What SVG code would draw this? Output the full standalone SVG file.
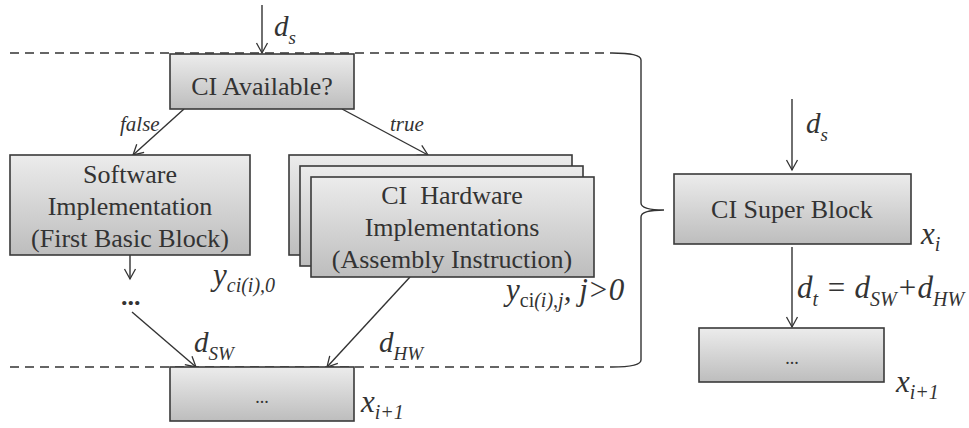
<svg xmlns="http://www.w3.org/2000/svg" width="969" height="428" viewBox="0 0 969 428">
<defs>
<linearGradient id="g" x1="0" y1="0" x2="0" y2="1">
<stop offset="0" stop-color="#ececec"/>
<stop offset="1" stop-color="#bdbdbd"/>
</linearGradient>
<marker id="ah" markerUnits="userSpaceOnUse" markerWidth="14" markerHeight="14" viewBox="0 0 14 14" refX="12" refY="7" orient="auto">
<path d="M2,1.5 L12,7 L2,12.5" fill="none" stroke="#333" stroke-width="1.3"/>
</marker>
<style>
.box{fill:url(#g);stroke:#3a3a3a;stroke-width:1.6}
.ln{stroke:#333;stroke-width:1.4;fill:none}
.dash{stroke:#333;stroke-width:1.4;fill:none;stroke-dasharray:9 6}
</style>
</defs>
<rect width="969" height="428" fill="#fff"/>

<g id="connectors">
<line class="ln" x1="262" y1="5" x2="262" y2="53" marker-end="url(#ah)"/>
<line class="ln" x1="184" y1="109" x2="133" y2="155" marker-end="url(#ah)"/>
<line class="ln" x1="342" y1="109" x2="428" y2="155" marker-end="url(#ah)"/>
<line class="ln" x1="130" y1="255" x2="130" y2="279" marker-end="url(#ah)"/>
<line class="ln" x1="132" y1="312" x2="196" y2="367" marker-end="url(#ah)"/>
<line class="ln" x1="410" y1="277" x2="327" y2="367" marker-end="url(#ah)"/>
<line class="ln" x1="792" y1="99" x2="792" y2="170" marker-end="url(#ah)"/>
<line class="ln" x1="792" y1="247" x2="792" y2="327" marker-end="url(#ah)"/>
<path class="dash" d="M10,53 H612"/>
<path class="dash" d="M10,367 H612"/>
<path class="ln" d="M612,53 Q641,53 641,60 V203 Q641,210 664,210 Q641,210 641,217 V360 Q641,367 612,367"/>
<g font-family="Liberation Serif, serif" font-style="italic" fill="#333">
<text x="120" y="131" font-size="21">false</text>
<text x="390" y="131" font-size="21">true</text>
<text x="274" y="36" font-size="29">d<tspan font-size="19" dy="8">s</tspan></text>
<text x="806" y="133" font-size="29">d<tspan font-size="19" dy="8">s</tspan></text>
<text x="194" y="352" font-size="29">d<tspan font-size="19" dy="8">SW</tspan></text>
<text x="379" y="352" font-size="29">d<tspan font-size="19" dy="8">HW</tspan></text>
<text x="797" y="298" font-size="31">d<tspan font-size="20" dy="8">t</tspan><tspan dy="-8"> = d</tspan><tspan font-size="20" dy="8">SW</tspan><tspan dy="-8">+d</tspan><tspan font-size="20" dy="8">HW</tspan></text>
<text x="121" y="305" font-size="26" font-weight="bold" font-style="normal">...</text>
<text x="213" y="285" font-size="31">y<tspan font-size="20" dy="7">ci(i),0</tspan></text>
<text x="506" y="300" font-size="31">y<tspan font-size="20" dy="7" font-style="normal">ci</tspan><tspan font-size="20">(i),j</tspan><tspan dy="-7">, j&gt;0</tspan></text>
</g>
</g>

<g id="ci-available">
<rect class="box" x="170" y="54" width="184" height="55"/>
<text x="262" y="95" font-family="Liberation Serif, serif" font-size="26" fill="#333" text-anchor="middle">CI Available?</text>
</g>

<g id="software" font-family="Liberation Serif, serif" font-size="26" fill="#333" text-anchor="middle">
<rect class="box" x="10" y="155" width="240" height="100"/>
<text x="130" y="183">Software</text>
<text x="130" y="215">Implementation</text>
<text x="130" y="247">(First Basic Block)</text>
</g>

<g id="hardware" font-family="Liberation Serif, serif" font-size="26" fill="#333" text-anchor="middle">
<rect class="box" x="289" y="155" width="283" height="100"/>
<rect class="box" x="300" y="166" width="283" height="100"/>
<rect class="box" x="311" y="177" width="283" height="100"/>
<text x="452" y="204" xml:space="preserve">CI  Hardware</text>
<text x="452" y="236">Implementations</text>
<text x="452" y="268">(Assembly Instruction)</text>
</g>

<g id="next-left" font-family="Liberation Serif, serif" fill="#333">
<rect class="box" x="170" y="367" width="184" height="54"/>
<text x="262" y="403" font-size="18" text-anchor="middle">...</text>
<text x="361" y="412" font-size="31" font-style="italic">x<tspan font-size="20" dy="7">i+1</tspan></text>
</g>

<g id="super-block" font-family="Liberation Serif, serif" fill="#333">
<rect class="box" x="674" y="174" width="237" height="70" stroke-width="5" stroke="#333"/>
<text x="792" y="218" font-size="26" text-anchor="middle">CI Super Block</text>
<text x="921" y="244" font-size="31" font-style="italic">x<tspan font-size="20" dy="7">i</tspan></text>
</g>

<g id="next-right" font-family="Liberation Serif, serif" fill="#333">
<rect class="box" x="699" y="328" width="185" height="54"/>
<text x="792" y="364" font-size="18" text-anchor="middle">...</text>
<text x="896" y="392" font-size="31" font-style="italic">x<tspan font-size="20" dy="7">i+1</tspan></text>
</g>
</svg>
